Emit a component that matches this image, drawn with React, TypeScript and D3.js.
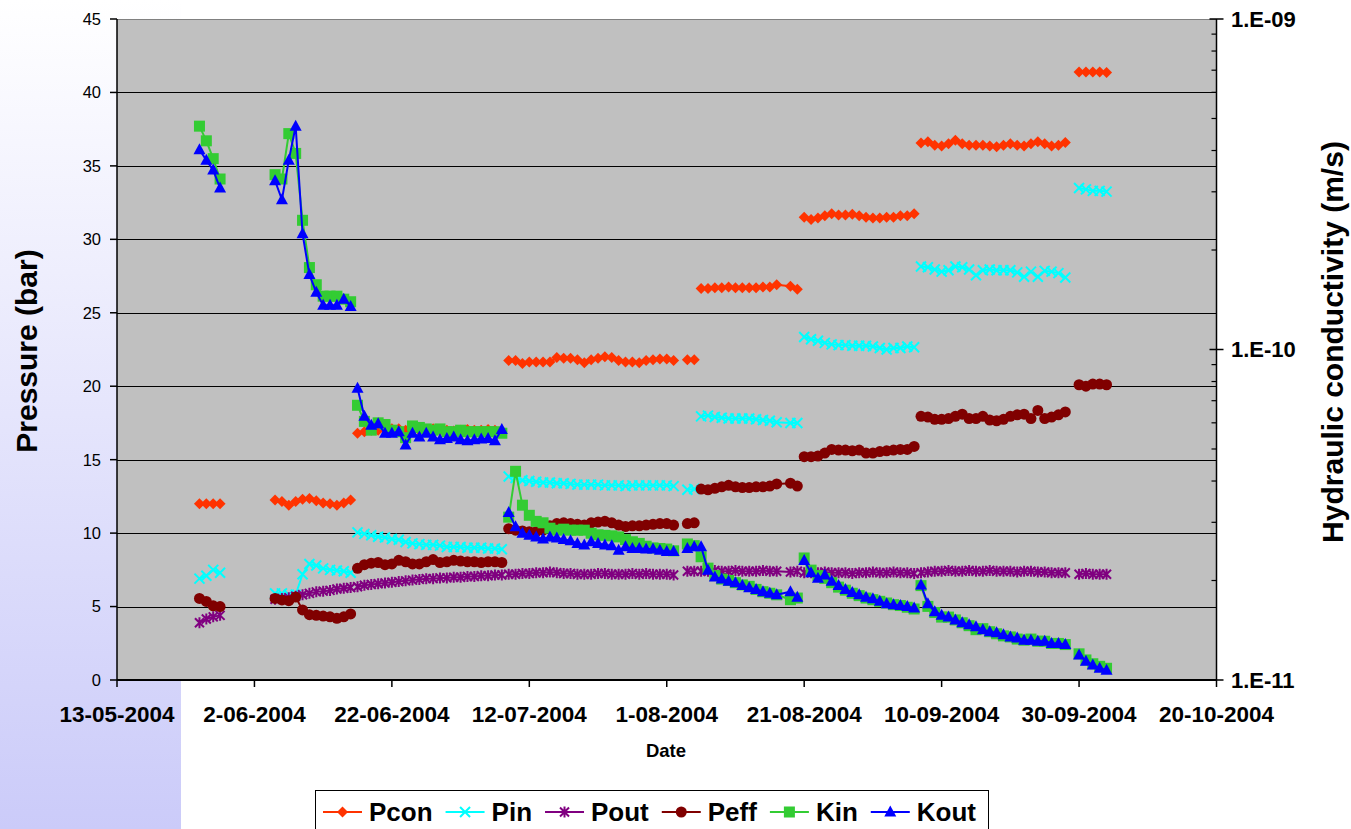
import React, { useMemo } from "react";
import * as d3 from "d3";

// Sampling dates (dd-mm-yyyy), one row per measurement
const dates = [
  // stage 1
  "25-05-2004", "26-05-2004", "27-05-2004", "28-05-2004",
  // stage 2
  "05-06-2004", "06-06-2004", "07-06-2004", "08-06-2004", "09-06-2004", "10-06-2004",
  "11-06-2004", "12-06-2004", "13-06-2004", "14-06-2004", "15-06-2004", "16-06-2004",
  // stage 3
  "17-06-2004", "18-06-2004", "19-06-2004", "20-06-2004", "21-06-2004", "22-06-2004",
  "23-06-2004", "24-06-2004", "25-06-2004", "26-06-2004", "27-06-2004", "28-06-2004",
  "29-06-2004", "30-06-2004", "01-07-2004", "02-07-2004", "03-07-2004", "04-07-2004",
  "05-07-2004", "06-07-2004", "07-07-2004", "08-07-2004",
  // stage 4
  "09-07-2004", "10-07-2004", "11-07-2004", "12-07-2004", "13-07-2004", "14-07-2004",
  "15-07-2004", "16-07-2004", "17-07-2004", "18-07-2004", "19-07-2004", "20-07-2004",
  "21-07-2004", "22-07-2004", "23-07-2004", "24-07-2004", "25-07-2004", "26-07-2004",
  "27-07-2004", "28-07-2004", "29-07-2004", "30-07-2004", "31-07-2004", "01-08-2004",
  "02-08-2004",
  // stage 5
  "04-08-2004", "05-08-2004",
  // stage 6
  "06-08-2004", "07-08-2004", "08-08-2004", "09-08-2004", "10-08-2004", "11-08-2004",
  "12-08-2004", "13-08-2004", "14-08-2004", "15-08-2004", "16-08-2004", "17-08-2004",
  "19-08-2004", "20-08-2004",
  // stage 7
  "21-08-2004", "22-08-2004", "23-08-2004", "24-08-2004", "25-08-2004", "26-08-2004",
  "27-08-2004", "28-08-2004", "29-08-2004", "30-08-2004", "31-08-2004", "01-09-2004",
  "02-09-2004", "03-09-2004", "04-09-2004", "05-09-2004", "06-09-2004",
  // stage 8
  "07-09-2004", "08-09-2004", "09-09-2004", "10-09-2004", "11-09-2004", "12-09-2004",
  "13-09-2004", "14-09-2004", "15-09-2004", "16-09-2004", "17-09-2004", "18-09-2004",
  "19-09-2004", "20-09-2004", "21-09-2004", "22-09-2004", "23-09-2004", "24-09-2004",
  "25-09-2004", "26-09-2004", "27-09-2004", "28-09-2004",
  // stage 9
  "30-09-2004", "01-10-2004", "02-10-2004", "03-10-2004", "04-10-2004",
];

// First day of each confining-pressure stage; lines are not joined across stages
const stageStarts = [
  "25-05-2004", "05-06-2004", "17-06-2004", "09-07-2004", "04-08-2004",
  "06-08-2004", "21-08-2004", "07-09-2004", "30-09-2004",
];

// Pressures (bar)
const pcon = [
  12.0, 12.0, 12.0, 12.0,
  12.25, 12.15, 11.9, 12.15, 12.3, 12.35, 12.2, 12.05, 12.0, 11.9, 12.05, 12.25,
  16.8, 16.9, 17.0, 17.0, 17.0, 17.1, 17.1, 17.0, 17.05, 17.0, 17.0, 17.1, 17.0, 17.0,
  16.95, 17.0, 17.05, 17.0, 17.0, 17.05, 17.0, 16.95,
  21.75, 21.75, 21.55, 21.65, 21.65, 21.65, 21.65, 21.95, 21.9, 21.9, 21.8, 21.6, 21.8,
  21.9, 22.0, 21.95, 21.75, 21.65, 21.65, 21.6, 21.75, 21.8, 21.85, 21.85, 21.75,
  21.8, 21.8,
  26.65, 26.65, 26.7, 26.7, 26.75, 26.7, 26.7, 26.7, 26.7, 26.75, 26.75, 26.9, 26.8, 26.6,
  31.5, 31.35, 31.45, 31.6, 31.75, 31.65, 31.65, 31.7, 31.6, 31.5, 31.45, 31.45, 31.5,
  31.5, 31.6, 31.6, 31.75,
  36.55, 36.65, 36.4, 36.35, 36.5, 36.75, 36.5, 36.4, 36.4, 36.4, 36.35, 36.3, 36.4,
  36.5, 36.4, 36.35, 36.5, 36.65, 36.5, 36.35, 36.4, 36.6,
  41.4, 41.4, 41.4, 41.4, 41.35,
];

const pin = [
  6.9, 7.1, 7.5, 7.3,
  5.9, 5.9, 5.8, 5.8, 7.2, 7.9, 7.8, 7.6, 7.5, 7.45, 7.4, 7.3,
  10.05, 9.95, 9.85, 9.75, 9.7, 9.6, 9.55, 9.4, 9.3, 9.25, 9.2, 9.2, 9.15, 9.05, 9.05,
  9.05, 9.0, 9.0, 9.0, 8.95, 8.95, 8.9,
  13.85, 13.75, 13.6, 13.55, 13.5, 13.45, 13.45, 13.4, 13.4, 13.35, 13.3, 13.3, 13.3,
  13.3, 13.25, 13.25, 13.25, 13.2, 13.25, 13.25, 13.25, 13.25, 13.25, 13.25, 13.2,
  12.95, 13.0,
  17.95, 18.0, 17.9, 17.85, 17.8, 17.8, 17.8, 17.8, 17.75, 17.7, 17.65, 17.55, 17.5, 17.5,
  23.35, 23.2, 23.1, 22.95, 22.85, 22.8, 22.8, 22.75, 22.75, 22.75, 22.7, 22.6, 22.5,
  22.6, 22.6, 22.7, 22.65,
  28.15, 28.1, 27.95, 27.8, 27.9, 28.15, 28.1, 27.95, 27.55, 27.9, 27.95, 27.9, 27.9,
  27.9, 27.75, 27.45, 27.8, 27.45, 27.85, 27.8, 27.7, 27.4,
  33.5, 33.4, 33.3, 33.3, 33.25,
];

const pout = [
  3.9, 4.15, 4.3, 4.4,
  5.5, 5.55, 5.6, 5.7, 5.8, 5.9, 6.0, 6.05, 6.1, 6.2, 6.25, 6.3,
  6.35, 6.45, 6.5, 6.55, 6.6, 6.65, 6.7, 6.75, 6.8, 6.85, 6.9, 6.9, 6.95, 6.95, 7.0,
  7.0, 7.05, 7.05, 7.1, 7.1, 7.15, 7.15,
  7.2, 7.2, 7.25, 7.25, 7.3, 7.3, 7.35, 7.3, 7.25, 7.25, 7.2, 7.2, 7.2, 7.25, 7.25,
  7.2, 7.2, 7.2, 7.25, 7.2, 7.25, 7.2, 7.2, 7.2, 7.15,
  7.4, 7.4,
  7.4, 7.4, 7.45, 7.4, 7.4, 7.45, 7.4, 7.4, 7.4, 7.45, 7.4, 7.4, 7.35, 7.4,
  7.3, 7.3, 7.3, 7.35, 7.3, 7.3, 7.3, 7.25, 7.3, 7.3, 7.35, 7.3, 7.3, 7.35, 7.3, 7.3, 7.25,
  7.3, 7.35, 7.4, 7.4, 7.45, 7.4, 7.4, 7.45, 7.4, 7.4, 7.45, 7.4, 7.4, 7.4, 7.35, 7.4,
  7.4, 7.35, 7.35, 7.3, 7.3, 7.3,
  7.2, 7.25, 7.2, 7.2, 7.2,
];

const peff = [
  5.55, 5.35, 5.05, 5.0,
  5.55, 5.45, 5.4, 5.65, 4.77, 4.45, 4.4, 4.35, 4.3, 4.2, 4.3, 4.5,
  7.6, 7.85, 7.95, 8.0, 7.85, 7.9, 8.15, 8.05, 7.9, 7.9, 8.05, 8.2, 8.0, 8.05, 8.15,
  8.1, 8.05, 8.05, 8.0, 8.05, 8.05, 8.0,
  10.3, 10.2, 10.15, 10.1, 10.1, 10.2, 10.5, 10.65, 10.7, 10.65, 10.6, 10.55, 10.7,
  10.75, 10.8, 10.7, 10.55, 10.45, 10.5, 10.5, 10.55, 10.6, 10.65, 10.65, 10.55,
  10.65, 10.7,
  13.0, 12.95, 13.05, 13.15, 13.25, 13.15, 13.1, 13.1, 13.15, 13.15, 13.2, 13.35, 13.4, 13.2,
  15.2, 15.2, 15.25, 15.45, 15.7, 15.65, 15.65, 15.6, 15.65, 15.45, 15.45, 15.55, 15.6,
  15.65, 15.7, 15.7, 15.9,
  17.95, 17.9, 17.75, 17.75, 17.8, 17.95, 18.1, 17.8, 17.8, 17.95, 17.7, 17.65, 17.75,
  17.95, 18.05, 18.1, 17.8, 18.35, 17.8, 17.9, 18.05, 18.25,
  20.1, 20.0, 20.15, 20.15, 20.1,
];

// Hydraulic conductivity (m/s)
const kin = [
  4.74e-10, 4.28e-10, 3.78e-10, 3.28e-10,
  3.38e-10, 3.28e-10, 4.5e-10, 3.92e-10, 2.46e-10, 1.77e-10, 1.57e-10, 1.45e-10,
  1.45e-10, 1.45e-10, 1.42e-10, 1.395e-10,
  6.78e-11, 6.06e-11, 5.7e-11, 6.0e-11, 5.93e-11, 5.7e-11, 5.64e-11, 5.41e-11, 5.87e-11,
  5.81e-11, 5.75e-11, 5.7e-11, 5.75e-11, 5.64e-11, 5.64e-11, 5.7e-11, 5.64e-11, 5.64e-11,
  5.64e-11, 5.64e-11, 5.64e-11, 5.58e-11,
  3.11e-11, 4.28e-11, 3.38e-11, 3.15e-11, 3.02e-11, 2.99e-11, 2.88e-11, 2.84e-11,
  2.86e-11, 2.84e-11, 2.84e-11, 2.84e-11, 2.78e-11, 2.75e-11, 2.74e-11, 2.73e-11,
  2.71e-11, 2.66e-11, 2.62e-11, 2.59e-11, 2.54e-11, 2.51e-11, 2.5e-11, 2.49e-11, 2.46e-11,
  2.58e-11, 2.55e-11,
  2.36e-11, 2.18e-11, 2.07e-11, 2.02e-11, 2.0e-11, 1.97e-11, 1.94e-11, 1.92e-11,
  1.88e-11, 1.85e-11, 1.83e-11, 1.81e-11, 1.75e-11, 1.77e-11,
  2.34e-11, 2.15e-11, 2.07e-11, 2.03e-11, 1.97e-11, 1.91e-11, 1.87e-11, 1.83e-11,
  1.8e-11, 1.77e-11, 1.75e-11, 1.73e-11, 1.71e-11, 1.69e-11, 1.68e-11, 1.66e-11, 1.64e-11,
  1.93e-11, 1.67e-11, 1.6e-11, 1.55e-11, 1.55e-11, 1.52e-11, 1.49e-11, 1.46e-11,
  1.42e-11, 1.43e-11, 1.4e-11, 1.38e-11, 1.36e-11, 1.35e-11, 1.33e-11, 1.32e-11,
  1.33e-11, 1.31e-11, 1.31e-11, 1.29e-11, 1.29e-11, 1.28e-11,
  1.2e-11, 1.15e-11, 1.12e-11, 1.1e-11, 1.085e-11,
];

const kout = [
  4.02e-10, 3.74e-10, 3.49e-10, 3.08e-10,
  3.24e-10, 2.84e-10, 3.74e-10, 4.74e-10, 2.24e-10, 1.685e-10, 1.49e-10, 1.36e-10,
  1.36e-10, 1.36e-10, 1.42e-10, 1.35e-10,
  7.63e-11, 6.28e-11, 5.9e-11, 5.96e-11, 5.58e-11, 5.58e-11, 5.64e-11, 5.14e-11, 5.58e-11,
  5.44e-11, 5.58e-11, 5.44e-11, 5.33e-11, 5.38e-11, 5.44e-11, 5.33e-11, 5.3e-11, 5.33e-11,
  5.36e-11, 5.38e-11, 5.3e-11, 5.73e-11,
  3.21e-11, 2.91e-11, 2.78e-11, 2.74e-11, 2.71e-11, 2.67e-11, 2.71e-11, 2.69e-11,
  2.66e-11, 2.64e-11, 2.59e-11, 2.56e-11, 2.62e-11, 2.59e-11, 2.56e-11, 2.55e-11,
  2.47e-11, 2.53e-11, 2.5e-11, 2.5e-11, 2.49e-11, 2.49e-11, 2.47e-11, 2.45e-11, 2.45e-11,
  2.5e-11, 2.53e-11,
  2.53e-11, 2.15e-11, 2.05e-11, 2.02e-11, 1.99e-11, 1.97e-11, 1.93e-11, 1.9e-11,
  1.88e-11, 1.85e-11, 1.83e-11, 1.81e-11, 1.85e-11, 1.78e-11,
  2.3e-11, 2.11e-11, 2.03e-11, 2.08e-11, 1.99e-11, 1.93e-11, 1.88e-11, 1.84e-11,
  1.81e-11, 1.78e-11, 1.76e-11, 1.73e-11, 1.7e-11, 1.69e-11, 1.68e-11, 1.67e-11, 1.65e-11,
  1.94e-11, 1.7e-11, 1.61e-11, 1.57e-11, 1.55e-11, 1.52e-11, 1.49e-11, 1.47e-11,
  1.45e-11, 1.42e-11, 1.4e-11, 1.39e-11, 1.37e-11, 1.35e-11, 1.34e-11, 1.32e-11,
  1.32e-11, 1.31e-11, 1.31e-11, 1.29e-11, 1.29e-11, 1.28e-11,
  1.19e-11, 1.14e-11, 1.11e-11, 1.085e-11, 1.07e-11,
];

// Axis settings
const dateDomain = ["13-05-2004", "20-10-2004"];
const dateTickStepDays = 20;
const pressureTicks = [0, 5, 10, 15, 20, 25, 30, 35, 40, 45];
const kDecades = [1e-11, 1e-10, 1e-9];

type MarkerKind = "diamond" | "cross" | "star" | "circle" | "square" | "triangle";

const series: { name: string; values: number[]; axis: "p" | "k"; color: string; marker: MarkerKind }[] = [
  { name: "Pcon", values: pcon, axis: "p", color: "#FF3300", marker: "diamond" },
  { name: "Pin", values: pin, axis: "p", color: "#00FFFF", marker: "cross" },
  { name: "Pout", values: pout, axis: "p", color: "#800080", marker: "star" },
  { name: "Peff", values: peff, axis: "p", color: "#800000", marker: "circle" },
  { name: "Kin", values: kin, axis: "k", color: "#33CC33", marker: "square" },
  { name: "Kout", values: kout, axis: "k", color: "#0000FF", marker: "triangle" },
];

const W = 1351;
const H = 829;
const plot = { left: 117, right: 1216.5, top: 19, bottom: 680 };
const FONT = '"Liberation Sans", Arial, Helvetica, sans-serif';

const parseDate = d3.timeParse("%d-%m-%Y");
const fmtDate = d3.timeFormat("%-d-%m-%Y");

function Marker({ kind, color, x, y }: { kind: MarkerKind; color: string; x: number; y: number }) {
  const t = `translate(${x},${y})`;
  switch (kind) {
    case "diamond":
      return <path transform={t} d="M0,-5.5L5.5,0L0,5.5L-5.5,0Z" fill={color} />;
    case "cross":
      return <path transform={t} d="M-5,-5L5,5M-5,5L5,-5" stroke={color} strokeWidth={2} fill="none" />;
    case "star":
      return (
        <path transform={t} d="M-4.5,-4.5L4.5,4.5M-4.5,4.5L4.5,-4.5M0,-5.5L0,5.5" stroke={color} strokeWidth={2} fill="none" />
      );
    case "circle":
      return <circle cx={x} cy={y} r={5.5} fill={color} />;
    case "square":
      return <rect x={x - 5.5} y={y - 5.5} width={11} height={11} fill={color} />;
    case "triangle":
      return <path transform={t} d="M0,-6.5L6,4.5L-6,4.5Z" fill={color} />;
  }
}

function textWidth(text: string, font: string) {
  const ctx = document.createElement("canvas").getContext("2d");
  if (!ctx) return text.length * 14;
  ctx.font = font;
  return ctx.measureText(text).width;
}

export default function App() {
  const x = d3
    .scaleTime()
    .domain(dateDomain.map((d) => parseDate(d) as Date))
    .range([plot.left, plot.right]);
  const yP = d3.scaleLinear().domain([0, 45]).range([plot.bottom, plot.top]);
  const yK = d3.scaleLog().domain([1e-11, 1e-9]).range([plot.bottom, plot.top]);

  const rowDates = dates.map((d) => parseDate(d) as Date);
  const starts = stageStarts.map((d) => (parseDate(d) as Date).getTime());
  const stageOf = rowDates.map((d) => d3.bisectRight(starts, d.getTime()) - 1);
  const stageRows = d3.groups(d3.range(dates.length), (i) => stageOf[i]).map((g) => g[1]);

  const xTicks = d3.range(0, 9).map((k) => d3.timeDay.offset(x.domain()[0], k * dateTickStepDays));

  const minorK: number[] = [];
  for (const dec of kDecades.slice(0, -1)) for (let m = 2; m <= 9; m++) minorK.push(dec * m);

  const legendFont = `bold 26px ${FONT}`;
  const legendItems = useMemo(() => {
    let cx = 323;
    return series.map((s) => {
      const item = { s, lineX: cx, textX: cx + 46 };
      cx = item.textX + textWidth(s.name, legendFont) + 13;
      return item;
    });
  }, []);

  const kLabel = (v: number) => {
    const e = Math.round(Math.log10(v));
    return `1.E${e < 0 ? "-" : "+"}${String(Math.abs(e)).padStart(2, "0")}`;
  };

  return (
    <div style={{ position: "absolute", left: 0, top: 0 }}>
      <svg width={W} height={H} style={{ display: "block", fontFamily: FONT }}>
        <defs>
          <linearGradient id="sideFade" x1="0" y1="0" x2="0" y2="1">
            <stop offset="0" stopColor="#ffffff" />
            <stop offset="1" stopColor="#cbcbf9" />
          </linearGradient>
        </defs>
        <rect x={0} y={0} width={W} height={H} fill="#ffffff" />
        <rect x={0} y={0} width={181} height={H} fill="url(#sideFade)" />

        {/* plot area */}
        <rect
          x={plot.left}
          y={plot.top}
          width={plot.right - plot.left}
          height={plot.bottom - plot.top}
          fill="#C0C0C0"
        />
        {pressureTicks.slice(1, -1).map((v) => (
          <line
            key={`g${v}`}
            x1={plot.left}
            x2={plot.right}
            y1={Math.round(yP(v)) + 0.5}
            y2={Math.round(yP(v)) + 0.5}
            stroke="#000"
            strokeWidth={1}
          />
        ))}
        <line x1={plot.left} x2={plot.right} y1={plot.top + 0.5} y2={plot.top + 0.5} stroke="#808080" />

        {/* series */}
        {series.map((s) => {
          const yScale = s.axis === "p" ? yP : yK;
          const line = d3
            .line<number>()
            .x((i) => x(rowDates[i]))
            .y((i) => yScale(s.values[i]));
          return (
            <g key={s.name}>
              {stageRows.map((rows, k) => (
                <path key={k} d={line(rows) || ""} fill="none" stroke={s.color} strokeWidth={2} />
              ))}
              {s.values.map((v, i) => (
                <Marker key={i} kind={s.marker} color={s.color} x={x(rowDates[i])} y={yScale(v)} />
              ))}
            </g>
          );
        })}

        {/* left axis */}
        <line x1={plot.left} x2={plot.left} y1={plot.top} y2={plot.bottom} stroke="#000" strokeWidth={1.5} />
        {pressureTicks.map((v) => (
          <g key={`p${v}`}>
            <line x1={plot.left - 7} x2={plot.left} y1={yP(v)} y2={yP(v)} stroke="#000" strokeWidth={1.5} />
            <text x={101} y={yP(v)} dy="0.36em" textAnchor="end" fontSize={16.5} fill="#000">
              {v}
            </text>
          </g>
        ))}

        {/* bottom axis */}
        <line x1={plot.left} x2={plot.right} y1={plot.bottom} y2={plot.bottom} stroke="#000" strokeWidth={2} />
        {xTicks.map((d) => (
          <g key={d.getTime()}>
            <line x1={x(d)} x2={x(d)} y1={plot.bottom} y2={plot.bottom + 7} stroke="#000" strokeWidth={1.5} />
            <text x={x(d)} y={722} textAnchor="middle" fontSize={22.5} fontWeight="bold" fill="#000">
              {fmtDate(d)}
            </text>
          </g>
        ))}
        <text x={666} y={757} textAnchor="middle" fontSize={18.5} fontWeight="bold" fill="#000">
          Date
        </text>

        {/* right axis */}
        <line x1={plot.right} x2={plot.right} y1={plot.top} y2={plot.bottom} stroke="#000" strokeWidth={1.5} />
        {minorK.map((v) => (
          <line key={v} x1={plot.right - 5} x2={plot.right} y1={yK(v)} y2={yK(v)} stroke="#000" strokeWidth={1.2} />
        ))}
        {kDecades.map((v) => (
          <g key={v}>
            <line x1={plot.right - 7} x2={plot.right + 7} y1={yK(v)} y2={yK(v)} stroke="#000" strokeWidth={1.5} />
            <text x={1231} y={yK(v)} dy="0.36em" fontSize={22} fontWeight="bold" fill="#000">
              {kLabel(v)}
            </text>
          </g>
        ))}

        {/* axis titles */}
        <text
          transform={`translate(37,351) rotate(-90)`}
          textAnchor="middle"
          fontSize={30}
          fontWeight="bold"
          fill="#000"
        >
          Pressure (bar)
        </text>
        <text
          transform={`translate(1343,342) rotate(-90)`}
          textAnchor="middle"
          fontSize={30}
          fontWeight="bold"
          fill="#000"
        >
          Hydraulic conductivity (m/s)
        </text>

        {/* legend */}
        <rect x={315.5} y={790.5} width={673} height={60} fill="#fff" stroke="#000" strokeWidth={1} />
        {legendItems.map(({ s, lineX, textX }) => (
          <g key={s.name}>
            <line x1={lineX} x2={lineX + 39} y1={812} y2={812} stroke={s.color} strokeWidth={2} />
            <Marker kind={s.marker} color={s.color} x={lineX + 19.5} y={812} />
            <text x={textX} y={821} fontSize={26} fontWeight="bold" fill="#000">
              {s.name}
            </text>
          </g>
        ))}
      </svg>
    </div>
  );
}
